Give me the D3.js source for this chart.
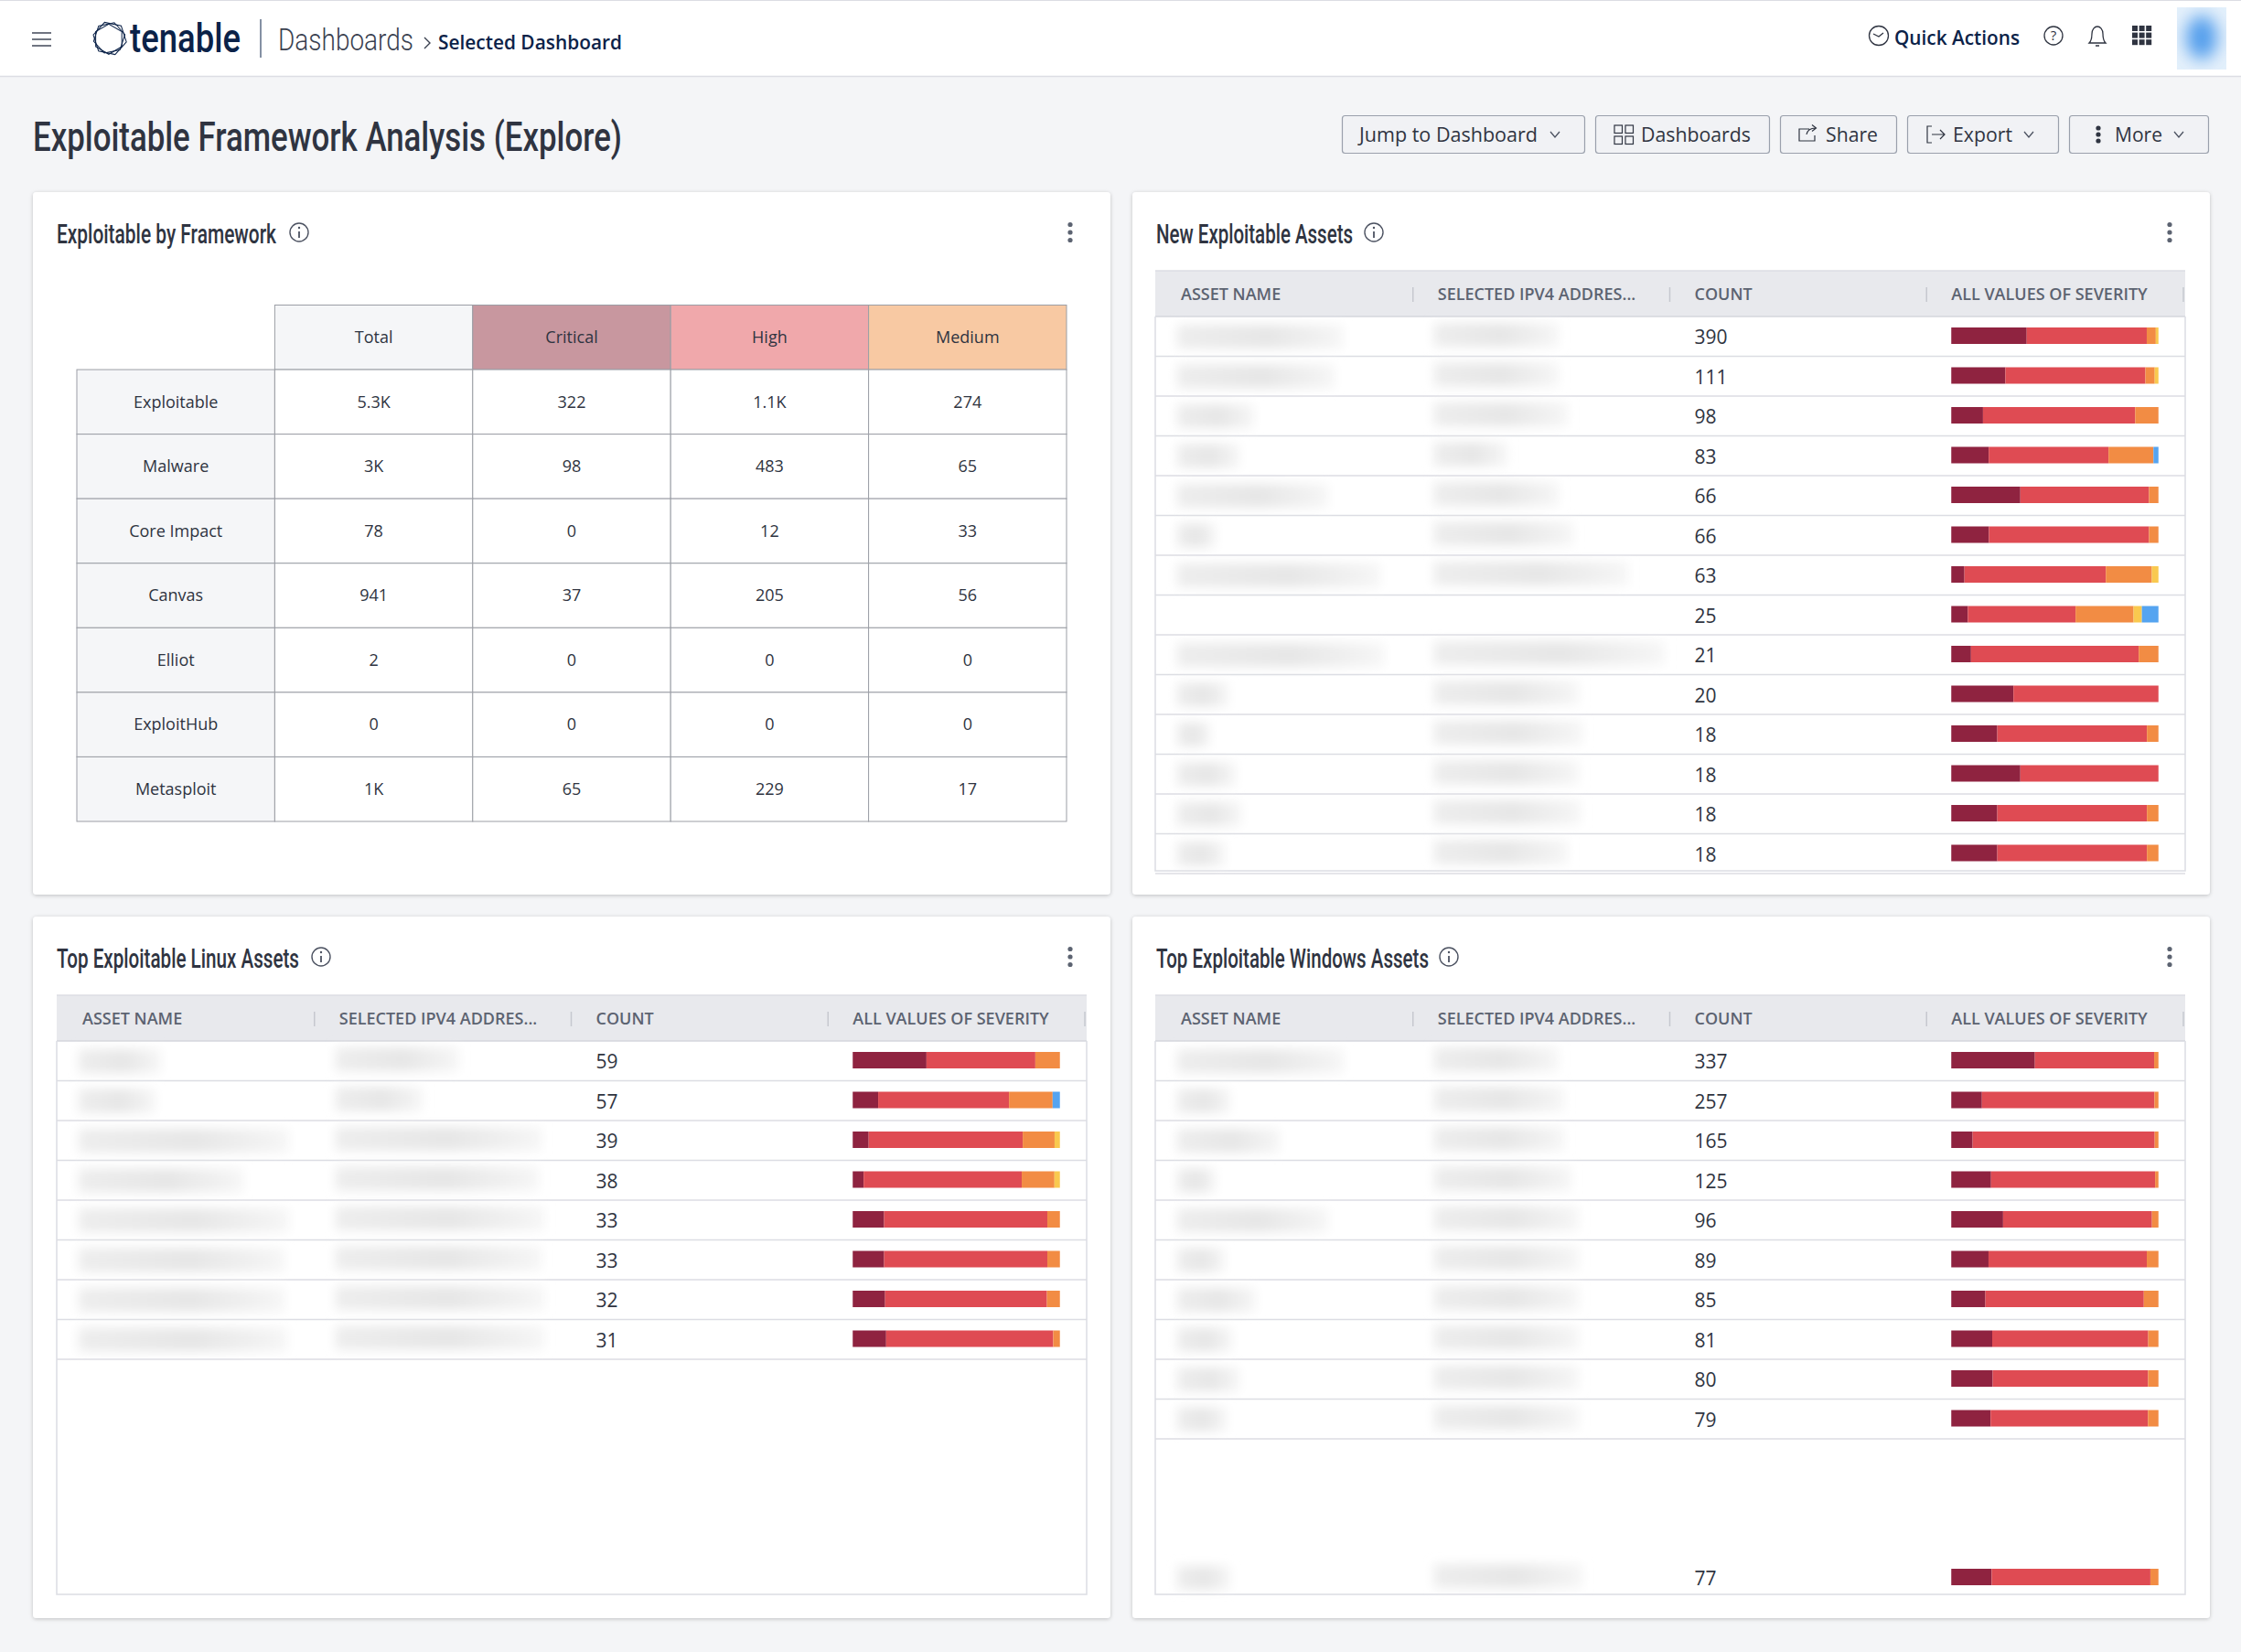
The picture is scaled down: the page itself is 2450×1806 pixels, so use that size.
<!DOCTYPE html>
<html>
<head>
<meta charset="utf-8">
<title>Exploitable Framework Analysis (Explore)</title>
<script src="https://cdnjs.cloudflare.com/ajax/libs/d3/7.8.5/d3.min.js"></script>
<style>
html, body { margin: 0; padding: 0; background: #f4f5f7; }
svg { display: block; }
text { font-family: "Open Sans", "Noto Sans", sans-serif; fill: #2f3441; }
.cond { font-family: Roboto, sans-serif; font-weight: 500; }
.thin { font-family: Roboto, sans-serif; font-weight: 300; }
.th { font-size: 18px; font-weight: 600; fill: #5c6371; }
.count { font-size: 21px; }
.cell { font-size: 18px; }
.btn { font-size: 21px; font-weight: 500; }
.nav { font-size: 21px; font-weight: 600; fill: #0b2248; }
</style>
</head>
<body>
<div id="chart"></div>
<script>
// framework table
const frameworks = ['Exploitable', 'Malware', 'Core Impact', 'Canvas', 'Elliot', 'ExploitHub', 'Metasploit'];
const frameworkCols = ['Total', 'Critical', 'High', 'Medium'];
const totalVals = ['5.3K', '3K', '78', '941', '2', '0', '1K'];
const criticalVals = ['322', '98', '0', '37', '0', '0', '65'];
const highVals = ['1.1K', '483', '12', '205', '0', '0', '229'];
const mediumVals = ['274', '65', '33', '56', '0', '0', '17'];

// severity split
const severities = ['critical', 'high', 'medium', 'low', 'info'];

const newCounts = [390, 111, 98, 83, 66, 66, 63, 25, 21, 20, 18, 18, 18, 18];
const newCritical = [142, 29, 15, 15, 22, 12, 4, 2, 2, 6, 4, 6, 4, 4];
const newHigh = [226, 75, 72, 48, 41, 51, 43, 13, 17, 14, 13, 12, 13, 13];
const newMedium = [17, 5, 11, 18, 3, 3, 14, 7, 2, 0, 1, 0, 1, 1];
const newLow = [5, 2, 0, 0, 0, 0, 2, 1, 0, 0, 0, 0, 0, 0];
const newInfo = [0, 0, 0, 2, 0, 0, 0, 2, 0, 0, 0, 0, 0, 0];

const linuxCounts = [59, 57, 39, 38, 33, 33, 32, 31];
const linuxCritical = [21, 7, 3, 2, 5, 5, 5, 5];
const linuxHigh = [31, 36, 29, 29, 26, 26, 25, 25];
const linuxMedium = [7, 12, 6, 6, 2, 2, 2, 1];
const linuxLow = [0, 0, 1, 1, 0, 0, 0, 0];
const linuxInfo = [0, 2, 0, 0, 0, 0, 0, 0];

const winCounts = [337, 257, 165, 125, 96, 89, 85, 81, 80, 79, 77];
const winCritical = [136, 38, 17, 24, 24, 16, 14, 16, 16, 15, 15];
const winHigh = [194, 214, 145, 99, 69, 68, 65, 61, 60, 60, 59];
const winMedium = [7, 5, 3, 2, 3, 5, 6, 4, 4, 4, 3];
const winLow = [0, 0, 0, 0, 0, 0, 0, 0, 0, 0, 0];
const winInfo = [0, 0, 0, 0, 0, 0, 0, 0, 0, 0, 0];

// asset names and addresses are redacted in the source, only their length shows
const newNameBlur = [181, 172, 84, 68, 165, 42, 222, 0, 226, 56, 36, 64, 70, 52];
const newIpBlur = [136, 136, 146, 80, 136, 152, 212, 0, 252, 158, 162, 158, 160, 146];
const linuxNameBlur = [90, 84, 230, 180, 230, 225, 225, 228];
const linuxIpBlur = [135, 95, 225, 222, 228, 225, 228, 228];
const winNameBlur = [182, 58, 112, 42, 165, 52, 86, 60, 68, 54, 58];
const winIpBlur = [136, 142, 142, 150, 158, 158, 158, 158, 158, 158, 162];

const colorSev = d3.scaleOrdinal(severities, ['#8f2340', '#df4b53', '#f28c44', '#f9c94f', '#55a4f0']);
const headerFill = d3.scaleOrdinal(frameworkCols, ['#f5f6f8', '#c8979f', '#f0a8ab', '#f8c9a3']);
const assetCols = ['ASSET NAME', 'SELECTED IPV4 ADDRES...', 'COUNT', 'ALL VALUES OF SEVERITY'];

const W = 2450, H = 1806;
const svg = d3.select('#chart').append('svg').attr('width', W).attr('height', H).attr('viewBox', `0 0 ${W} ${H}`);
const defs = svg.append('defs');
defs.append('filter').attr('id', 'blur').attr('x', '-20%').attr('y', '-50%').attr('width', '140%').attr('height', '200%')
    .append('feGaussianBlur').attr('stdDeviation', 6);
defs.append('filter').attr('id', 'blur2').attr('x', '-30%').attr('y', '-30%').attr('width', '160%').attr('height', '160%')
    .append('feGaussianBlur').attr('stdDeviation', 9);
defs.append('filter').attr('id', 'shadow').attr('x', '-2%').attr('y', '-2%').attr('width', '104%').attr('height', '104%')
    .append('feDropShadow').attr('dx', 0).attr('dy', 1).attr('stdDeviation', 2.2).attr('flood-color', '#000').attr('flood-opacity', 0.22);
const fade = defs.append('linearGradient').attr('id', 'fade');
fade.append('stop').attr('offset', '0%').attr('stop-color', '#ededed');
fade.append('stop').attr('offset', '55%').attr('stop-color', '#e6e6e6');
fade.append('stop').attr('offset', '100%').attr('stop-color', '#f6f6f6');

svg.append('rect').attr('width', W).attr('height', H).attr('fill', '#f4f5f7');

function txt(parent, x, y, s, cls, opts) {
    opts = opts || {};
    const t = parent.append('text').attr('x', x).attr('y', y).attr('dy', '.35em').attr('class', cls || null).text(s);
    if (opts.size) t.style('font-size', opts.size + 'px');
    if (opts.fill) t.style('fill', opts.fill);
    if (opts.anchor) t.attr('text-anchor', opts.anchor);
    if (opts.len) t.attr('textLength', opts.len).attr('lengthAdjust', 'spacingAndGlyphs');
    return t;
}

function infoIcon(parent, x, y) {
    const g = parent.append('g').attr('transform', `translate(${x},${y})`).attr('stroke', '#4c5261').attr('fill', 'none');
    g.append('circle').attr('r', 10).attr('stroke-width', 1.4);
    g.append('line').attr('y1', -1).attr('y2', 6).attr('stroke-width', 1.8);
    g.append('circle').attr('cy', -5).attr('r', 1.2).attr('fill', '#4c5261').attr('stroke', 'none');
}

function kebab(parent, x, y, col, gap) {
    parent.append('g').selectAll('circle').data([-1, 0, 1]).join('circle')
        .attr('cx', x).attr('cy', d => y + d * (gap || 8.5)).attr('r', 2.6).attr('fill', col || '#5c6371');
}

function chevron(parent, x, y) {
    parent.append('path').attr('d', `M${x - 5},${y - 3}L${x},${y + 3}L${x + 5},${y - 3}`)
        .attr('fill', 'none').attr('stroke', '#4c5261').attr('stroke-width', 1.3);
}

function drawNav() {
    const g = svg.append('g');
    g.append('rect').attr('width', W).attr('height', 83).attr('fill', '#fff');
    g.append('line').attr('x1', 0).attr('x2', W).attr('y1', 83.5).attr('y2', 83.5).attr('stroke', '#dcdde3').attr('stroke-width', 1.5);
    g.append('line').attr('x1', 0).attr('x2', W).attr('y1', 0.5).attr('y2', 0.5).attr('stroke', '#dcdde3');

    g.append('g').selectAll('line').data([36, 43, 50]).join('line')
        .attr('x1', 35).attr('x2', 56).attr('y1', d => d).attr('y2', d => d).attr('stroke', '#4c5261').attr('stroke-width', 1.6);

    // logo: offset hexagon outlines
    const hex = d3.range(6).map(i => [Math.cos(i * Math.PI / 3), Math.sin(i * Math.PI / 3)]);
    const logo = g.append('g').attr('transform', 'translate(119.5,42)').attr('fill', 'none').attr('stroke', '#0b2248').attr('stroke-width', 1);
    [[12, 18.5, 0.6, 0], [30, 16.5, -0.6, 0.8], [48, 17.5, 0, -0.6]].forEach(h => {
        logo.append('polygon').attr('transform', `translate(${h[2]},${h[3]}) rotate(${h[0]})`)
            .attr('points', hex.map(p => [p[0] * h[1], p[1] * h[1]].join(',')).join(' '));
    });
    txt(g, 142, 42, 'tenable', 'cond', { size: 44, fill: '#0b2248', len: 121 });
    g.append('line').attr('x1', 285).attr('x2', 285).attr('y1', 21).attr('y2', 63).attr('stroke', '#0b2248').attr('stroke-width', 1);
    txt(g, 304, 43, 'Dashboards', 'thin', { size: 33, fill: '#3a4150', len: 148 });
    g.append('path').attr('d', 'M464,41L470,47L464,53').attr('fill', 'none').attr('stroke', '#3a4150').attr('stroke-width', 1.4);
    txt(g, 479, 47, 'Selected Dashboard', 'nav', { len: 201 });

    // clock
    const clock = g.append('g').attr('transform', 'translate(2054,39)').attr('fill', 'none').attr('stroke', '#2f3441').attr('stroke-width', 1.3);
    clock.append('circle').attr('r', 10.5);
    clock.append('path').attr('d', 'M-6,-2L0,1L5,-3');
    txt(g, 2071, 42, 'Quick Actions', 'nav', { len: 137 });

    const help = g.append('g').attr('transform', 'translate(2245,39)');
    help.append('circle').attr('r', 10).attr('fill', 'none').attr('stroke', '#2f3441').attr('stroke-width', 1.3);
    txt(help, 0, 0, '?', null, { size: 15, anchor: 'middle' });

    g.append('path').attr('transform', 'translate(2293,39)')
        .attr('d', 'M-9,8C-6,5 -6,2 -6,-2C-6,-7 -3,-10 0,-10C3,-10 6,-7 6,-2C6,2 6,5 9,8ZM-2,11L2,11')
        .attr('fill', 'none').attr('stroke', '#2f3441').attr('stroke-width', 1.3);

    const gridIdx = d3.range(9);
    g.append('g').selectAll('rect').data(gridIdx).join('rect')
        .attr('x', d => 2331 + (d % 3) * 7.6).attr('y', d => 28 + Math.floor(d / 3) * 7.6)
        .attr('width', 6).attr('height', 6).attr('fill', '#2f3441');

    // avatar is blurred in the source
    const clip = defs.append('clipPath').attr('id', 'avatarClip');
    clip.append('rect').attr('x', 2380).attr('y', 8).attr('width', 54).attr('height', 68);
    g.append('rect').attr('x', 2380).attr('y', 8).attr('width', 54).attr('height', 68).attr('fill', '#e4f0fb');
    g.append('g').attr('clip-path', 'url(#avatarClip)').append('ellipse')
        .attr('cx', 2407).attr('cy', 41).attr('rx', 17).attr('ry', 24).attr('fill', '#559fec').attr('filter', 'url(#blur2)');
}

function drawToolbar() {
    const g = svg.append('g');
    txt(g, 36, 150, 'Exploitable Framework Analysis (Explore)', 'cond', { size: 44, fill: '#2f3441', len: 644 });
    const buttons = [
        { x0: 1467, x1: 1732, label: 'Jump to Dashboard', tx: 1486, len: 195, chev: 1700 },
        { x0: 1744, x1: 1934, label: 'Dashboards', tx: 1794, len: 120 },
        { x0: 1946, x1: 2073, label: 'Share', tx: 1996, len: 57 },
        { x0: 2085, x1: 2250, label: 'Export', tx: 2135, len: 65, chev: 2218 },
        { x0: 2262, x1: 2414, label: 'More', tx: 2312, len: 52, chev: 2382 }
    ];
    buttons.forEach(b => {
        g.append('rect').attr('x', b.x0 + .5).attr('y', 126.5).attr('width', b.x1 - b.x0).attr('height', 41).attr('rx', 3)
            .attr('fill', '#f1f2f5').attr('stroke', '#9aa0ac').attr('stroke-width', 1.2);
        txt(g, b.tx, 148, b.label, 'btn', { len: b.len });
        if (b.chev) chevron(g, b.chev, 147);
    });
    // dashboards icon
    g.append('g').selectAll('rect').data([[1765, 137], [1777, 137], [1765, 149], [1777, 149]]).join('rect')
        .attr('x', d => d[0]).attr('y', d => d[1]).attr('width', 8.5).attr('height', 8.5)
        .attr('fill', 'none').attr('stroke', '#2f3441').attr('stroke-width', 1.2);
    // share icon
    g.append('path').attr('d', 'M1978,141L1967,141L1967,154L1984,154L1984,148M1975,147C1976,142 1979,140 1985,140M1981,136.5L1985.5,140L1981,143.5')
        .attr('fill', 'none').attr('stroke', '#2f3441').attr('stroke-width', 1.2);
    // export icon
    g.append('path').attr('d', 'M2112,138L2107,138L2107,156L2112,156M2112,147L2126,147M2121,142L2126,147L2121,152')
        .attr('fill', 'none').attr('stroke', '#2f3441').attr('stroke-width', 1.2);
    kebab(g, 2294, 147, '#2f3441', 7);
}

function card(x, y, w, h, title, titleLen, infoX) {
    const g = svg.append('g');
    g.append('rect').attr('x', x).attr('y', y).attr('width', w).attr('height', h).attr('rx', 4)
        .attr('fill', '#fff').attr('filter', 'url(#shadow)');
    txt(g, x + 26, y + 46, title, 'cond', { size: 29, fill: '#2f3441', len: titleLen });
    infoIcon(g, infoX, y + 44);
    kebab(g, x + w - 44, y + 44);
    return g;
}

function drawFramework(g) {
    const x = d3.scaleBand().domain([''].concat(frameworkCols)).range([84, 1166]);
    const y = d3.scaleBand().domain(['head'].concat(frameworks)).range([333.5, 898]);
    const valueByCol = { Total: totalVals, Critical: criticalVals, High: highVals, Medium: mediumVals };
    const line = '#9b9ea5';

    g.selectAll('.hcell').data(frameworkCols).join('rect').attr('class', 'hcell')
        .attr('x', d => x(d)).attr('y', y('head')).attr('width', x.bandwidth()).attr('height', y.bandwidth())
        .attr('fill', d => headerFill(d)).attr('stroke', line);
    frameworkCols.forEach(c => txt(g, x(c) + x.bandwidth() / 2, y('head') + y.bandwidth() / 2, c, 'cell', { anchor: 'middle' }));

    frameworks.forEach((f, i) => {
        g.append('rect').attr('x', x('')).attr('y', y(f)).attr('width', x.bandwidth()).attr('height', y.bandwidth())
            .attr('fill', '#f5f6f8').attr('stroke', line);
        txt(g, x('') + x.bandwidth() / 2, y(f) + y.bandwidth() / 2, f, 'cell', { anchor: 'middle' });
        frameworkCols.forEach(c => {
            g.append('rect').attr('x', x(c)).attr('y', y(f)).attr('width', x.bandwidth()).attr('height', y.bandwidth())
                .attr('fill', '#fff').attr('stroke', line);
            txt(g, x(c) + x.bandwidth() / 2, y(f) + y.bandwidth() / 2, valueByCol[c][i], 'cell', { anchor: 'middle' });
        });
    });
}

function drawAssets(g, left, top, bottom, counts, series, nameBlur, ipBlur, pinLast) {
    const right = left + 1126, headH = 50, rowH = 43.5;
    const line = '#dcdde3';

    g.append('rect').attr('x', left).attr('y', top).attr('width', right - left).attr('height', headH).attr('fill', '#e8e9ed');
    g.append('line').attr('x1', left).attr('x2', right).attr('y1', top).attr('y2', top).attr('stroke', line).attr('stroke-width', 1.5);
    g.append('line').attr('x1', left).attr('x2', right).attr('y1', top + headH).attr('y2', top + headH).attr('stroke', '#d5d6dc').attr('stroke-width', 1.5);

    const colX = d3.scaleBand().domain(d3.range(4)).range([left, left + 1123]);
    assetCols.forEach((c, i) => {
        txt(g, colX(i) + 28, top + 26, c, 'th');
        const sep = colX(i) + colX.bandwidth() + 1;
        g.append('line').attr('x1', sep).attr('x2', sep).attr('y1', top + 18).attr('y2', top + 34).attr('stroke', '#c6c8cf').attr('stroke-width', 1.5);
    });

    // frame
    g.append('path').attr('d', `M${left},${top + headH}V${bottom}H${right}V${top + headH}`)
        .attr('fill', 'none').attr('stroke', line).attr('stroke-width', 1.5);

    // the last windows row sits apart at the bottom of the scroll area
    const rowTop = i => (pinLast && i === counts.length - 1) ? bottom - 40 : top + headH + i * rowH;

    const rows = counts.map((c, i) => {
        const o = { i };
        severities.forEach(s => { o[s] = series[s][i]; });
        return o;
    });
    const stacked = d3.stack().keys(severities).offset(d3.stackOffsetExpand)(rows);
    const barX = d3.scaleLinear().domain([0, 1]).range([colX(3) + 28, colX(3) + 254.5]);

    rows.forEach((r, i) => {
        const y0 = rowTop(i);
        const isLast = i === rows.length - 1;
        if (!(pinLast && isLast)) {
            g.append('line').attr('x1', left).attr('x2', right).attr('y1', y0 + rowH).attr('y2', y0 + rowH).attr('stroke', line).attr('stroke-width', 1.5);
        }
        if (nameBlur[i]) {
            g.append('rect').attr('x', left + 24).attr('y', y0 + 9).attr('width', nameBlur[i]).attr('height', 26)
                .attr('fill', 'url(#fade)').attr('filter', 'url(#blur)');
        }
        if (ipBlur[i]) {
            g.append('rect').attr('x', colX(1) + 24).attr('y', y0 + 7).attr('width', ipBlur[i]).attr('height', 26)
                .attr('fill', 'url(#fade)').attr('filter', 'url(#blur)');
        }
        txt(g, colX(2) + 28, y0 + 23, counts[i], 'count');
    });

    g.selectAll('.sev').data(stacked).join('g').attr('class', 'sev').attr('fill', d => colorSev(d.key))
        .selectAll('rect').data(d => d).join('rect')
        .attr('x', d => barX(d[0])).attr('width', d => barX(d[1]) - barX(d[0]))
        .attr('y', d => rowTop(d.data.i) + 12).attr('height', 18);
}

function seriesOf(critical, high, medium, low, info) {
    return { critical, high, medium, low, info };
}

drawNav();
drawToolbar();

const c1 = card(36, 210, 1178, 768, 'Exploitable by Framework', 240, 327);
drawFramework(c1);

const c2 = card(1238, 210, 1178, 768, 'New Exploitable Assets', 215, 1502);
drawAssets(c2, 1263, 296, 952, newCounts, seriesOf(newCritical, newHigh, newMedium, newLow, newInfo), newNameBlur, newIpBlur);

const c3 = card(36, 1002, 1178, 767, 'Top Exploitable Linux Assets', 265, 351);
drawAssets(c3, 62, 1088, 1743, linuxCounts, seriesOf(linuxCritical, linuxHigh, linuxMedium, linuxLow, linuxInfo), linuxNameBlur, linuxIpBlur);

const c4 = card(1238, 1002, 1178, 767, 'Top Exploitable Windows Assets', 298, 1584);
drawAssets(c4, 1263, 1088, 1743, winCounts, seriesOf(winCritical, winHigh, winMedium, winLow, winInfo), winNameBlur, winIpBlur, true);
</script>
</body>
</html>
